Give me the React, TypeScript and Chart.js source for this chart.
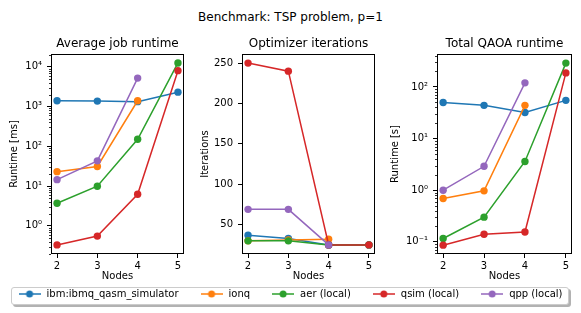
import React, { useEffect, useRef } from "react";
import { Chart, registerables } from "chart.js";

Chart.register(...registerables);
Chart.defaults.font.family = "'DejaVu Sans', sans-serif";
Chart.defaults.color = "#000";

// ---------------- data ----------------
const nodes = [2, 3, 4, 5];
const seriesNames = ["ibm:ibmq_qasm_simulator", "ionq", "aer (local)", "qsim (local)", "qpp (local)"];
const seriesColors = ["#1f77b4", "#ff7f0e", "#2ca02c", "#d62728", "#9467bd"];

// Average job runtime [ms], one row per series, one column per node count
const avgJobRuntimeMs: (number | null)[][] = [
  [1400, 1370, 1330, 2300],
  [23, 31, 1400, null],
  [3.7, 9.9, 150, 12500],
  [0.33, 0.55, 6.2, 8000],
  [14.5, 43, 5200, null],
];

// Optimizer iterations
const optimizerIterations: (number | null)[][] = [
  [37, 33, 25, 25],
  [30, 31, 32, null],
  [30, 30, 25, 25],
  [250, 240, 25, 25],
  [69, 69, 25, null],
];

// Total QAOA runtime [s]
const totalQaoaRuntimeS: (number | null)[][] = [
  [50, 44, 32, 55],
  [0.69, 0.97, 44, null],
  [0.116, 0.3, 3.6, 290],
  [0.086, 0.14, 0.155, 187],
  [1.0, 2.9, 120, null],
];

const xTicks = [2, 3, 4, 5];
const runtimeMsTicks = [1, 10, 100, 1000, 10000];
const iterationTicks = [50, 100, 150, 200, 250];
const runtimeSTicks = [0.1, 1, 10, 100];

// ---------------- layout ----------------
type Panel = {
  title: string;
  yTitle: string;
  values: (number | null)[][];
  yType: "linear" | "logarithmic";
  yMin: number;
  yMax: number;
  yTicks: number[];
  left: number;
  top: number;
  width: number;
  height: number;
  axisLeft: number;
  axisRight: number;
  yTitlePad: number;
};

const panels: Panel[] = [
  {
    title: "Average job runtime",
    yTitle: "Runtime [ms]",
    values: avgJobRuntimeMs,
    yType: "logarithmic",
    yMin: 0.195,
    yMax: 21000,
    yTicks: runtimeMsTicks,
    left: 0,
    top: 30,
    width: 190,
    height: 252,
    axisLeft: 51,
    axisRight: 184,
    yTitlePad: 8,
  },
  {
    title: "Optimizer iterations",
    yTitle: "Iterations",
    values: optimizerIterations,
    yType: "linear",
    yMin: 13.75,
    yMax: 261.25,
    yTicks: iterationTicks,
    left: 190,
    top: 30,
    width: 190,
    height: 252,
    axisLeft: 52,
    axisRight: 185,
    yTitlePad: 9,
  },
  {
    title: "Total QAOA runtime",
    yTitle: "Runtime [s]",
    values: totalQaoaRuntimeS,
    yType: "logarithmic",
    yMin: 0.058,
    yMax: 435,
    yTicks: runtimeSTicks,
    left: 380,
    top: 30,
    width: 201,
    height: 252,
    axisLeft: 57,
    axisRight: 192,
    yTitlePad: 9,
  },
];

const SUP: Record<string, string> = {
  "-": "\u207B",
  "0": "\u2070",
  "1": "\u00B9",
  "2": "\u00B2",
  "3": "\u00B3",
  "4": "\u2074",
  "5": "\u2075",
  "6": "\u2076",
  "7": "\u2077",
  "8": "\u2078",
  "9": "\u2079",
};
const logLabel = (v: number) => {
  const e = Math.round(Math.log10(v));
  return "10" + String(e).split("").map((c) => SUP[c] || c).join("");
};

const framePlugin = {
  id: "frame",
  afterDraw(chart: any) {
    const { ctx, chartArea } = chart;
    const l = Math.round(chartArea.left) + 0.5;
    const t = Math.round(chartArea.top) + 0.5;
    const r = Math.round(chartArea.right) - 0.5;
    const b = Math.round(chartArea.bottom) - 0.5;
    ctx.save();
    ctx.strokeStyle = "#000";
    ctx.lineWidth = 1;
    ctx.strokeRect(l, t, r - l, b - t);
    ctx.restore();
  },
};

const minorTicksPlugin = {
  id: "minorTicks",
  afterDraw(chart: any) {
    const scale = chart.scales.y;
    if (!scale || scale.type !== "logarithmic") return;
    const { ctx } = chart;
    const x0 = Math.round(chart.chartArea.left);
    ctx.save();
    ctx.strokeStyle = "#000";
    ctx.lineWidth = 0.8;
    const k0 = Math.floor(Math.log10(scale.min));
    const k1 = Math.ceil(Math.log10(scale.max));
    for (let k = k0; k <= k1; k++) {
      for (let m = 2; m <= 9; m++) {
        const v = m * Math.pow(10, k);
        if (v < scale.min || v > scale.max) continue;
        const y = Math.round(scale.getPixelForValue(v)) + 0.5;
        ctx.beginPath();
        ctx.moveTo(x0, y);
        ctx.lineTo(x0 - 2, y);
        ctx.stroke();
      }
    }
    ctx.restore();
  },
};

function panelConfig(p: Panel): any {
  const datasets = p.values.map((row, i) => ({
    label: seriesNames[i],
    data: nodes
      .map((x, j) => ({ x, y: row[j] }))
      .filter((d) => d.y !== null && d.y !== undefined),
    borderColor: seriesColors[i],
    backgroundColor: seriesColors[i],
    pointBackgroundColor: seriesColors[i],
    pointBorderColor: seriesColors[i],
    pointBorderWidth: 0,
    pointRadius: 3.7,
    borderWidth: 1.5,
    tension: 0,
    fill: false,
    order: seriesNames.length - i,
  }));
  return {
    type: "line",
    data: { datasets },
    plugins: [framePlugin, minorTicksPlugin],
    options: {
      animation: false,
      responsive: false,
      devicePixelRatio: 1,
      events: [],
      layout: { padding: { left: 0, right: p.width - p.axisRight, top: 0, bottom: 0 } },
      plugins: {
        legend: { display: false },
        tooltip: { enabled: false },
        title: {
          display: true,
          text: p.title,
          fullSize: false,
          color: "#000",
          font: { size: 12, weight: "normal" },
          padding: { top: 7, bottom: 2.6 },
        },
      },
      scales: {
        x: {
          type: "linear",
          min: 1.85,
          max: 5.15,
          afterBuildTicks: (s: any) => {
            s.ticks = xTicks.map((v) => ({ value: v }));
          },
          afterFit: (s: any) => {
            s.height = 28;
          },
          ticks: {
            color: "#000",
            font: { size: 10 },
            padding: 2,
            maxRotation: 0,
            autoSkip: false,
            callback: (v: any) => String(v),
          },
          grid: { drawOnChartArea: false, drawTicks: true, tickLength: 4, tickColor: "#000", tickWidth: 1 },
          border: { display: false },
          title: { display: true, text: "Nodes", color: "#000", font: { size: 10 }, padding: 0 },
        },
        y: {
          type: p.yType,
          min: p.yMin,
          max: p.yMax,
          afterBuildTicks: (s: any) => {
            s.ticks = p.yTicks.map((v) => ({ value: v }));
          },
          afterFit: (s: any) => {
            s.width = p.axisLeft;
          },
          ticks: {
            color: "#000",
            font: { size: 10 },
            padding: 5,
            autoSkip: false,
            callback: (v: any) => (p.yType === "logarithmic" ? logLabel(Number(v)) : String(v)),
          },
          grid: { drawOnChartArea: false, drawTicks: true, tickLength: 4, tickColor: "#000", tickWidth: 1 },
          border: { display: false },
          title: {
            display: true,
            text: p.yTitle,
            color: "#000",
            font: { size: 10 },
            padding: { top: p.yTitlePad, bottom: 0 },
          },
        },
      },
    },
  };
}

function makeMarker(color: string): HTMLCanvasElement {
  const c = document.createElement("canvas");
  c.width = 22;
  c.height = 10;
  const ctx = c.getContext("2d")!;
  ctx.strokeStyle = color;
  ctx.lineWidth = 1.5;
  ctx.beginPath();
  ctx.moveTo(0, 5);
  ctx.lineTo(22, 5);
  ctx.stroke();
  ctx.fillStyle = color;
  ctx.beginPath();
  ctx.arc(11, 5, 3.5, 0, Math.PI * 2);
  ctx.fill();
  return c;
}

const LEGEND = { left: -30, top: 268, width: 640, height: 160 };

function legendConfig(): any {
  const markers = seriesColors.map(makeMarker);
  return {
    type: "line",
    data: {
      datasets: seriesNames.map((n, i) => ({ label: n, data: [], borderColor: seriesColors[i] })),
    },
    options: {
      animation: false,
      responsive: false,
      devicePixelRatio: 1,
      events: [],
      layout: { padding: 0 },
      scales: { x: { display: false }, y: { display: false } },
      plugins: {
        tooltip: { enabled: false },
        title: { display: false },
        legend: {
          display: true,
          position: "top",
          align: "center",
          maxHeight: 150,
          labels: {
            usePointStyle: true,
            pointStyleWidth: 24,
            padding: 21,
            color: "#000",
            font: { size: 10 },
            generateLabels: () =>
              seriesNames.map((n, i) => ({
                text: n,
                pointStyle: markers[i],
                fillStyle: seriesColors[i],
                strokeStyle: seriesColors[i],
                lineWidth: 0,
                hidden: false,
                datasetIndex: i,
                fontColor: "#000",
              })),
          },
        },
      },
    },
  };
}

export default function App() {
  const refs = [useRef<HTMLCanvasElement>(null), useRef<HTMLCanvasElement>(null), useRef<HTMLCanvasElement>(null)];
  const legendRef = useRef<HTMLCanvasElement>(null);

  useEffect(() => {
    const charts: Chart[] = [];
    panels.forEach((p, i) => {
      const c = refs[i].current;
      if (c) charts.push(new Chart(c, panelConfig(p)));
    });
    if (legendRef.current) charts.push(new Chart(legendRef.current, legendConfig()));
    return () => charts.forEach((c) => c.destroy());
  }, []);

  return (
    <div
      style={{
        position: "fixed",
        left: 0,
        top: 0,
        width: 581,
        height: 313,
        background: "#fff",
        overflow: "hidden",
        fontFamily: "'DejaVu Sans', sans-serif",
      }}
    >
      <div
        style={{
          position: "absolute",
          left: 0,
          top: 10,
          width: 581,
          textAlign: "center",
          fontSize: 12,
          lineHeight: "14px",
          color: "#000",
        }}
      >
        Benchmark: TSP problem, p=1
      </div>
      {panels.map((p, i) => (
        <canvas
          key={i}
          ref={refs[i]}
          width={p.width}
          height={p.height}
          style={{ position: "absolute", left: p.left, top: p.top, width: p.width, height: p.height, display: "block" }}
        />
      ))}
      <div
        style={{
          position: "absolute",
          left: 11,
          top: 287,
          width: 558,
          height: 18,
          boxSizing: "border-box",
          border: "1px solid #cccccc",
          borderRadius: 3,
          background: "#fff",
          boxShadow: "2px 2px 0 rgba(0,0,0,0.3)",
        }}
      />
      <canvas
        ref={legendRef}
        width={LEGEND.width}
        height={LEGEND.height}
        style={{
          position: "absolute",
          left: LEGEND.left,
          top: LEGEND.top,
          width: LEGEND.width,
          height: LEGEND.height,
          display: "block",
        }}
      />
    </div>
  );
}
